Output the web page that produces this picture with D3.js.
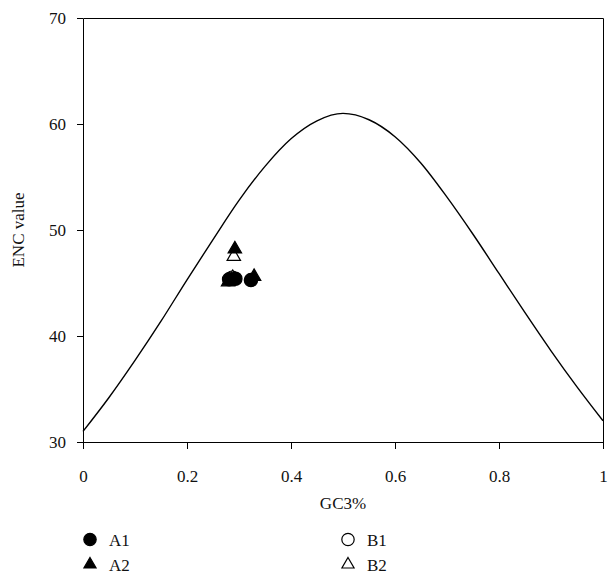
<!DOCTYPE html>
<html>
<head>
<meta charset="utf-8">
<script src="https://cdn.jsdelivr.net/npm/d3@7"></script>
<style>
  body { margin: 0; background: #fff; }
  svg { display: block; font-family: "Liberation Serif", "DejaVu Serif", serif; }
</style>
</head>
<body>
<div id="chart"></div>
<script>
//expected ENC curve
const curveGC3 = [0, 0.05, 0.1, 0.15, 0.2, 0.25, 0.3, 0.35, 0.4, 0.45, 0.5, 0.55, 0.6, 0.65, 0.7, 0.75, 0.8, 0.85, 0.9, 0.95, 1];
const curveENC = [31.0, 34.2, 37.7, 41.4, 45.3, 49.1, 52.8, 56.0, 58.6, 60.3, 61.0, 60.4, 58.8, 56.3, 53.1, 49.6, 45.9, 42.2, 38.6, 35.2, 32.0];

//observed genes, [GC3, ENC]
const seriesA1 = [[0.281, 45.35], [0.293, 45.4], [0.323, 45.28]];
const seriesA2 = [[0.292, 48.2], [0.329, 45.6], [0.279, 45.1]];
const seriesB1 = [[0.287, 45.5]];
const seriesB2 = [[0.29, 47.5], [0.288, 45.5]];

const xTicks = [0, 0.2, 0.4, 0.6, 0.8, 1];
const yTicks = [30, 40, 50, 60, 70];

const W = 608, H = 574;
const margin = { top: 18, right: 5, bottom: 132, left: 83 };
const width = W - margin.left - margin.right;
const height = H - margin.top - margin.bottom;

const svg = d3.select("#chart")
  .append("svg")
    .attr("width", W)
    .attr("height", H);

const g = svg.append("g")
  .attr("transform", `translate(${margin.left},${margin.top})`);

const x = d3.scaleLinear().domain([0, 1]).range([0, width]);
const y = d3.scaleLinear().domain([30, 70]).range([height, 0]);

//frame (top and right sides)
g.append("path")
  .attr("fill", "none")
  .attr("stroke", "#000")
  .attr("d", `M0.5,0.5H${width + 0.5}V${height + 0.5}`);

//axes
const xAxis = g.append("g")
  .attr("transform", `translate(0,${height})`)
  .call(d3.axisBottom(x).tickValues(xTicks).tickFormat(d => String(d)).tickSize(7).tickSizeOuter(0).tickPadding(21));

const yAxis = g.append("g")
  .call(d3.axisLeft(y).tickValues(yTicks).tickSize(6).tickSizeOuter(0).tickPadding(11));

[xAxis, yAxis].forEach(a => {
  a.selectAll("text").attr("font-family", "Liberation Serif").style("font-size", "17px").attr("fill", "#111");
  a.selectAll("line, path").attr("stroke", "#000");
});

//axis titles
svg.append("text")
  .attr("x", margin.left + width / 2)
  .attr("y", 509)
  .attr("text-anchor", "middle")
  .style("font-size", "17px")
  .attr("fill", "#111")
  .text("GC3%");

svg.append("text")
  .attr("transform", `translate(24,${margin.top + height / 2}) rotate(-90)`)
  .attr("text-anchor", "middle")
  .style("font-size", "17px")
  .attr("fill", "#111")
  .text("ENC value");

//expected curve
const line = d3.line()
  .x((d, i) => x(curveGC3[i]))
  .y(d => y(d))
  .curve(d3.curveMonotoneX);

g.append("path")
  .datum(curveENC)
  .attr("fill", "none")
  .attr("stroke", "#000")
  .attr("stroke-width", 1.4)
  .attr("d", line);

const circle = d3.symbol().type(d3.symbolCircle).size(140);
const triangle = d3.symbol().type(d3.symbolTriangle).size(78);

//open markers drawn first, filled ones on top
const series = [
  { name: "B1", data: seriesB1, shape: circle, filled: false },
  { name: "B2", data: seriesB2, shape: triangle, filled: false },
  { name: "A1", data: seriesA1, shape: circle, filled: true },
  { name: "A2", data: seriesA2, shape: triangle, filled: true }
];

series.forEach(s => {
  g.append("g")
    .selectAll("path")
    .data(s.data)
    .join("path")
      .attr("transform", d => `translate(${x(d[0])},${y(d[1])})`)
      .attr("d", s.shape())
      .attr("fill", s.filled ? "#000" : "#fff")
      .attr("stroke", "#000")
      .attr("stroke-width", 1.2);
});

//legend
const legendItems = [
  { name: "A1", shape: circle, filled: true, col: 0, row: 0 },
  { name: "A2", shape: triangle, filled: true, col: 0, row: 1 },
  { name: "B1", shape: circle, filled: false, col: 1, row: 0 },
  { name: "B2", shape: triangle, filled: false, col: 1, row: 1 }
];

const legend = svg.append("g")
  .attr("transform", "translate(90,539.5)");

const item = legend.selectAll("g")
  .data(legendItems)
  .join("g")
    .attr("transform", d => `translate(${d.col * 258},${d.row * 25})`);

item.append("path")
  .attr("d", d => d.shape.size(d.shape === circle ? 120 : 64)())
  .attr("fill", d => d.filled ? "#000" : "#fff")
  .attr("stroke", "#000")
  .attr("stroke-width", 1.2);

item.append("text")
  .attr("x", 19)
  .attr("y", 6)
  .style("font-size", "17px")
  .attr("fill", "#111")
  .text(d => d.name);
</script>
</body>
</html>
